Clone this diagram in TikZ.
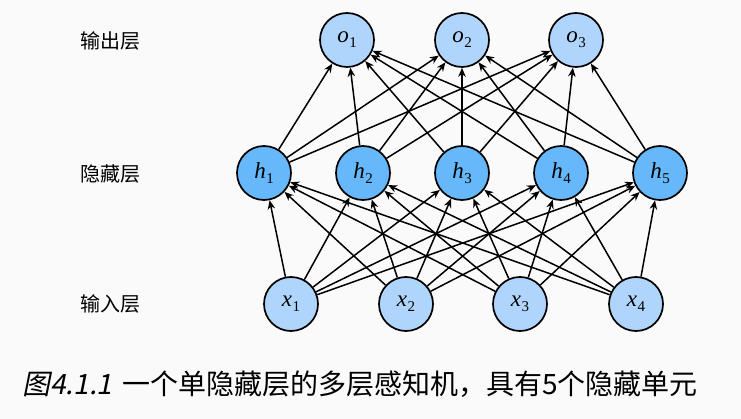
\documentclass[tikz,border=0pt]{standalone}
\usepackage{fontspec}
\newfontfamily\cjk{Noto Sans CJK SC}
\newfontfamily\cjkit{Noto Sans CJK SC}[FakeSlant=0.2]
\newfontfamily\tms{Liberation Serif}
\newcommand{\lab}[2]{{\tms\fontsize{23}{26}\selectfont\itshape #1}\kern0.5pt\raisebox{-5pt}{\tms\fontsize{15}{16}\selectfont #2}}
\usetikzlibrary{arrows.meta}
\definecolor{lightnode}{HTML}{B0D5FC}
\definecolor{hidnode}{HTML}{66B8FA}
\definecolor{bg}{HTML}{FAFAFA}
\begin{document}
\begin{tikzpicture}[x=1pt,y=-1pt,
  unit/.style={circle,draw=black,line width=1.7pt,minimum size=54pt,inner sep=0pt},
  io/.style={unit,fill=lightnode},
  hid/.style={unit,fill=hidnode},
  conn/.style={-{Stealth[length=9pt,width=7.5pt]},line width=1.5pt},
  layerlabel/.style={font=\cjk\fontsize{20}{24}\selectfont,anchor=west,inner sep=0pt},
  caption/.style={font=\cjk\fontsize{28}{32}\selectfont,anchor=west,inner sep=0pt}]
\fill[bg] (0,0) rectangle (741,419);
\useasboundingbox (0,0) rectangle (741,419);
% output layer
\node[io] (o1) at (347,40) {\lab{o}{1}};
\node[io] (o2) at (462,40) {\lab{o}{2}};
\node[io] (o3) at (576,40) {\lab{o}{3}};
% hidden layer
\node[hid] (h1) at (264,173) {\lab{h}{1}};
\node[hid] (h2) at (363,173) {\lab{h}{2}};
\node[hid] (h3) at (462,173) {\lab{h}{3}};
\node[hid] (h4) at (561,173) {\lab{h}{4}};
\node[hid] (h5) at (660,173) {\lab{h}{5}};
% input layer
\node[io] (x1) at (291,304) {\lab{x}{1}};
\node[io] (x2) at (406,304) {\lab{x}{2}};
\node[io] (x3) at (520,304) {\lab{x}{3}};
\node[io] (x4) at (636,304) {\lab{x}{4}};
% connections
\foreach \i in {1,...,4}{
  \foreach \j in {1,...,5}{
    \draw[conn] (x\i) -- (h\j);
  }
}
\foreach \j in {1,...,5}{
  \foreach \k in {1,2,3}{
    \draw[conn] (h\j) -- (o\k);
  }
}
% layer labels
\node[layerlabel] (lo) at (80,41) {输出层};
\node[layerlabel] (lh) at (80,174) {隐藏层};
\node[layerlabel] (li) at (80,304) {输入层};
% caption
\node[caption] (cap) at (22,384) {{\cjkit 图4.1.1}\hspace{10pt}一个单隐藏层的多层感知机，具有5个隐藏单元};
\end{tikzpicture}
\end{document}
